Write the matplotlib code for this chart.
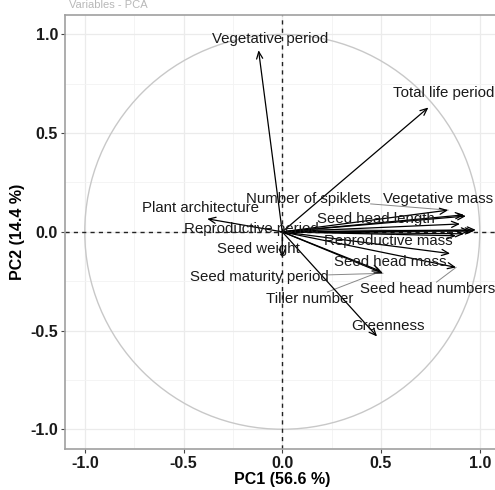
import numpy as np
import matplotlib
matplotlib.use("Agg")
from matplotlib import pyplot as plt
from matplotlib.patches import Circle

plt.rcParams['font.family'] = ['Liberation Sans', 'DejaVu Sans']
plt.rcParams['axes.unicode_minus'] = False

# variable loadings on PC1 / PC2
variables = ["Vegetative period", "Total life period", "Plant architecture",
             "Reproductive period", "Seed weight", "Seed maturity period",
             "Tiller number", "Greenness", "Number of spiklets",
             "Vegetative mass", "Seed head length", "Reproductive mass",
             "Seed head mass", "Seed head numbers"]
pc1 = [-0.12, 0.74, -0.38, 0.97, 0.00, 0.51, 0.50, 0.48, 0.84, 0.92, 0.93, 0.88, 0.85, 0.88]
pc2 = [0.92, 0.63, 0.066, 0.005, -0.13, -0.21, -0.20, -0.53, 0.11, 0.086, 0.08, -0.02, -0.11, -0.18]
# unlabelled arrows in the right-hand bundle
extra_pc1 = [0.98, 0.95, 0.92, 0.90]
extra_pc2 = [0.01, 0.005, -0.01, 0.04]

# repelled label positions
label_x = [-0.06, 0.815, -0.415, -0.157, -0.12, -0.116, 0.137, 0.537, 0.132, 0.79, 0.476, 0.537, 0.547, 0.734]
label_y = [0.975, 0.705, 0.12, 0.015, -0.086, -0.228, -0.34, -0.477, 0.167, 0.167, 0.066, -0.046, -0.152, -0.29]
connect = [False, False, False, True, False, True, True, False, True, False, False, False, False, True]

fig = plt.figure(figsize=(4.95, 4.9), dpi=100)
ax = fig.add_axes([65 / 495, 41 / 490, 434.5 / 495, 434.3 / 490])

ax.set_xlim(-1.1, 1.1)
ax.set_ylim(-1.1, 1.1)
ax.set_xticks([-1.0, -0.5, 0.0, 0.5, 1.0])
ax.set_yticks([-1.0, -0.5, 0.0, 0.5, 1.0])
ax.set_xticks([-0.75, -0.25, 0.25, 0.75], minor=True)
ax.set_yticks([-0.75, -0.25, 0.25, 0.75], minor=True)
ax.grid(True, which='major', color='#ebebeb', lw=0.9)
ax.grid(True, which='minor', color='#f3f3f3', lw=0.6)
ax.set_axisbelow(True)
for s in ax.spines.values():
    s.set_color('#a0a0a0')
    s.set_linewidth(1.2)
ax.tick_params(which='major', length=3, color='#444444', labelsize=11.5, pad=2)
ax.tick_params(which='minor', length=0)
for lab in ax.get_xticklabels() + ax.get_yticklabels():
    lab.set_fontweight('bold')
    lab.set_color('#1a1a1a')
ax.set_xlabel("PC1 (56.6 %)", fontsize=11.5, fontweight='bold', labelpad=1)
ax.set_ylabel("PC2 (14.4 %)", fontsize=11.5, fontweight='bold', labelpad=4)

ax.add_patch(Circle((0, 0), 1.0, fill=False, ec='#c8c8c8', lw=1.0))
ax.axhline(0, color='#222222', ls=(0, (3, 3)), lw=1.0)
ax.axvline(0, color='#222222', ls=(0, (3, 3)), lw=1.0)

for x, y in zip(pc1 + extra_pc1, pc2 + extra_pc2):
    ax.annotate("", xy=(x, y), xytext=(0, 0),
                arrowprops=dict(arrowstyle='->,head_length=0.5,head_width=0.22',
                                color='black', lw=0.9, shrinkA=0, shrinkB=0))

texts = []
for name, lx, ly in zip(variables, label_x, label_y):
    texts.append(ax.text(lx, ly, name, fontsize=10.8, ha='center', va='center',
                         color='#1a1a1a'))

fig.canvas.draw()
inv = ax.transData.inverted()
for t, x, y, c in zip(texts, pc1, pc2, connect):
    if not c:
        continue
    bb = t.get_window_extent().transformed(inv)
    cx, cy = (bb.x0 + bb.x1) / 2, (bb.y0 + bb.y1) / 2
    dx, dy = x - cx, y - cy
    sx = (bb.width / 2) / abs(dx) if dx != 0 else np.inf
    sy = (bb.height / 2) / abs(dy) if dy != 0 else np.inf
    s = min(sx, sy)
    if s >= 1:
        continue
    ax.plot([cx + dx * s, x], [cy + dy * s, y], color='#888888', lw=0.7)

fig.text(0.14, 0.999, "Variables - PCA", fontsize=8, color='#b8b8b8', va='top')

fig.savefig("out.png", dpi=100)
